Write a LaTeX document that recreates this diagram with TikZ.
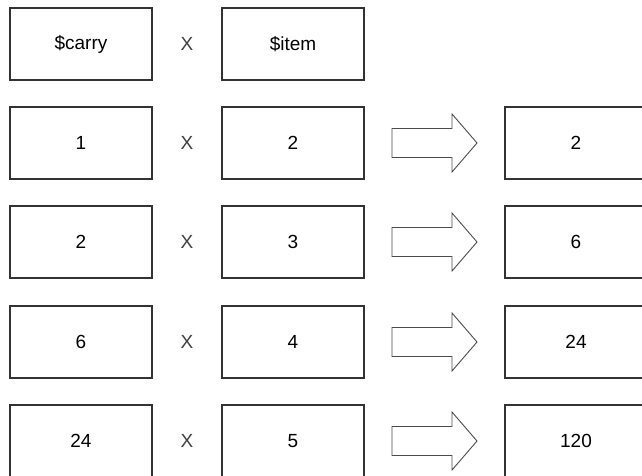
\documentclass[tikz,border=0pt]{standalone}
\usepackage{fontspec}
\setmainfont{Liberation Sans}
\begin{document}
\begin{tikzpicture}[x=1pt,y=-1pt,
  valbox/.style={draw=black!80,line width=1.3pt,minimum width=142pt,minimum height=72pt,inner sep=0pt,font=\fontsize{19}{22}\selectfont},
  times/.style={font=\fontsize{19}{22}\selectfont,text=black!75},
  bigarrow/.style={draw=black!70,line width=0.9pt,fill=white}]
\useasboundingbox (0,0) rectangle (642,475);
\clip (0,0) rectangle (642,475);
\foreach \y/\a/\b [count=\i] in {44/\$carry/\$item,143/1/2,242/2/3,342/6/4,441/24/5}{
  \node[valbox] (a\i) at (81,\y) {\a};
  \node[times] (x\i) at (187,\y) {X};
  \node[valbox] (b\i) at (293,\y) {\b};
}
\foreach \y/\r [count=\i from 2] in {143/2,242/6,342/24,441/120}{
  \node[valbox] (r\i) at (576,\y) {\r};
  \draw[bigarrow] (392,\y-14.5) -- (452,\y-14.5) -- (452,\y-29) -- (477,\y) -- (452,\y+29) -- (452,\y+14.5) -- (392,\y+14.5) -- cycle;
}
\end{tikzpicture}
\end{document}
